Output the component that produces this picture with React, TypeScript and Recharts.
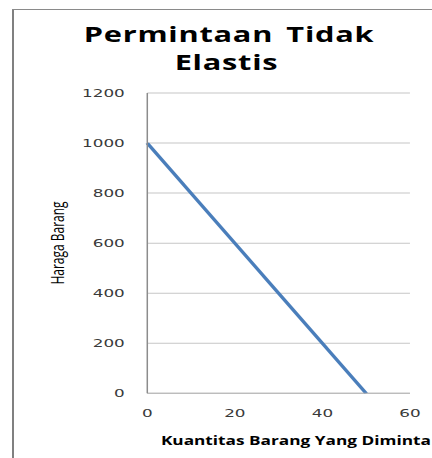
import React from "react";
import {
  LineChart,
  Line,
  XAxis,
  YAxis,
  CartesianGrid,
  Label,
} from "recharts";

const titleLines = ["Permintaan Tidak", "Elastis"];
const xAxisTitle = "Kuantitas Barang Yang Diminta";
const yAxisTitle = "Haraga Barang";

const quantity = [0, 50];
const price = [1000, 0];

const xTicks = [0, 20, 40, 60];
const yTicks = [0, 200, 400, 600, 800, 1000, 1200];

const data = quantity.map((q, i) => ({ q, p: price[i] }));

const SX = 1.5;
const W = 288;
const H = 458;

const tickStyle = {
  fontFamily: "DejaVu Sans",
  fontSize: 11.2,
  fill: "#3a3a3a",
};

export default function App() {
  return (
    <div
      style={{
        position: "absolute",
        left: 0,
        top: 0,
        width: W,
        height: H,
        transform: `scaleX(${SX})`,
        transformOrigin: "0 0",
        background: "#fff",
        overflow: "hidden",
      }}
    >
      <LineChart
        width={W}
        height={H}
        data={data}
        margin={{ top: 93, right: 14.7, bottom: 34.7, left: 38.2 }}
      >
        <CartesianGrid vertical={false} stroke="#c6c6c6" strokeWidth={1} />
        <XAxis
          dataKey="q"
          type="number"
          domain={[0, 60]}
          ticks={xTicks}
          height={30}
          tickLine={false}
          tickMargin={10}
          tick={tickStyle}
          axisLine={{ stroke: "#b4b4b4" }}
        >
          <Label
            content={(props: any) => {
              const vb = props.viewBox || {};
              return (
                <text
                  x={vb.x + vb.width / 2 + 11.5}
                  y={vb.y + 51.7}
                  textAnchor="middle"
                  fontFamily="Open Sans"
                  fontWeight="bold"
                  fontSize={11.5}
                  fill="#000"
                >
                  {xAxisTitle}
                </text>
              );
            }}
          />
        </XAxis>
        <YAxis
          type="number"
          domain={[0, 1200]}
          ticks={yTicks}
          width={60}
          tickLine={false}
          tickMargin={9}
          tick={tickStyle}
          axisLine={{ stroke: "#8c8c8c" }}
        >
          <Label
            content={() => (
              <text
                x={0}
                y={0}
                transform={`translate(42.5, 243) rotate(-90)`}
                textAnchor="middle"
                fontFamily="Open Sans"
                fontSize={12}
                fill="#000"
              >
                {yAxisTitle}
              </text>
            )}
          />
        </YAxis>
        <Line
          type="linear"
          dataKey="p"
          stroke="#4a7ebb"
          strokeWidth={2.6}
          dot={false}
          isAnimationActive={false}
        />
      </LineChart>
      <svg
        width={W}
        height={H}
        style={{ position: "absolute", left: 0, top: 0, pointerEvents: "none" }}
      >
        <rect x={8} y={9} width={1.33} height={H - 9} fill="#808080" />
        <rect x={8} y={9} width={W - 8} height={1} fill="#8a8a8a" />
        <text
          x={152.7}
          y={42}
          textAnchor="middle"
          fontFamily="Open Sans"
          fontWeight="bold"
          fontSize={20.5}
          letterSpacing={0.5}
          wordSpacing={3}
          fill="#000"
        >
          {titleLines[0]}
        </text>
        <text
          x={151}
          y={70.5}
          textAnchor="middle"
          fontFamily="Open Sans"
          fontWeight="bold"
          fontSize={20.5}
          letterSpacing={0.5}
          fill="#000"
        >
          {titleLines[1]}
        </text>
      </svg>
    </div>
  );
}
